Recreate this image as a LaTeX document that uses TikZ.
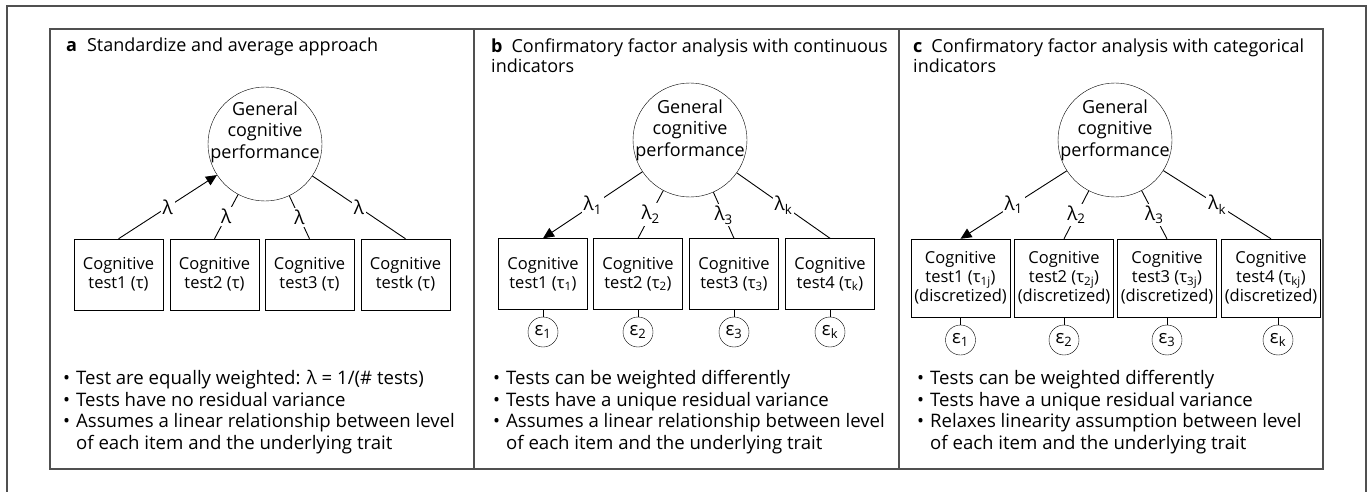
\documentclass[tikz,border=0pt]{standalone}
\usepackage{fontspec}
\setmainfont{Open Sans}
\usetikzlibrary{arrows.meta}
\definecolor{framegray}{HTML}{505050}

\begin{document}
\begin{tikzpicture}[x=1pt,y=-1pt]
\tikzset{latent/.style = {shape=circle,draw,minimum size=114pt,inner sep=0pt}}
\tikzset{test/.style = {shape=rectangle,draw,minimum width=89pt,minimum height=71pt,align=center,font=\fontsize{16.5}{19}\selectfont}}
\tikzset{cattest/.style = {test,minimum width=96pt,minimum height=78pt}}
\tikzset{err/.style = {shape=circle,draw,minimum size=30pt,inner sep=0pt,font=\fontsize{18.5}{18}\selectfont}}
\tikzset{edge/.style = {line width=0.9pt}}
\tikzset{head/.style = {-{Triangle[length=11pt,width=10pt]}}}
\tikzset{loading/.style = {fill=white,inner sep=2pt,font=\fontsize{19}{19}\selectfont}}
\tikzset{panel/.style = {draw=framegray,line width=1.3pt}}
\tikzset{title/.style = {anchor=base west,align=left,inner sep=0pt,font=\fontsize{18}{20}\selectfont}}
\tikzset{notes/.style = {anchor=north west,align=left,inner sep=0pt,font=\fontsize{18.6}{21.7}\selectfont}}
\tikzset{inside/.style = {align=center,font=\fontsize{18}{21.5}\selectfont}}
\newcommand{\bul}{\makebox[13pt][l]{•}}

\useasboundingbox (0,0) rectangle (1370,492);
% frames
\draw[draw=framegray,line width=2pt] (7,500) -- (7,6) -- (1366,6) -- (1366,500);
\draw[panel] (50,29) rectangle (474,469);
\draw[panel] (474,29) rectangle (899,469);
\draw[panel] (899,29) rectangle (1323,469);

% panel a
\node[title] (ta) at (66,52) {\textbf{a}\hspace{10pt}Standardize and average approach};
\node[latent,label={[inside,yshift=12pt]center:General\\cognitive\\performance}] (ga) at (265,144) {};
\node[test] (a1) at (118.5,274.5) {Cognitive\\test1 (τ)};
\node[test] (a2) at (214.5,274.5) {Cognitive\\test2 (τ)};
\node[test] (a3) at (309.5,274.5) {Cognitive\\test3 (τ)};
\node[test] (a4) at (405.5,274.5) {Cognitive\\testk (τ)};
\draw[edge,head] (a1.north) -- node[loading] {λ} (ga);
\draw[edge] (a2.north) -- node[loading] {λ} (ga);
\draw[edge] (a3.north) -- node[loading] {λ} (ga);
\draw[edge] (a4.north) -- node[loading] {λ} (ga);
\node[notes] (na) at (63,370) {\bul Test are equally weighted: λ = 1/(\# tests)\\
  \bul Tests have no residual variance\\
  \bul Assumes a linear relationship between level\\
  \hspace*{13pt}of each item and the underlying trait};

% panel b
\node[title] (tb) at (491,73) {\textbf{b}\hspace{9pt}Confirmatory factor analysis with continuous\\indicators};
\node[latent,label={[inside,yshift=10pt]center:General\\cognitive\\performance}] (gb) at (690,140) {};
\node[test] (b1) at (543,274) {Cognitive\\test1 (τ\textsubscript{1})};
\node[test] (b2) at (638,274) {Cognitive\\test2 (τ\textsubscript{2})};
\node[test] (b3) at (734,274) {Cognitive\\test3 (τ\textsubscript{3})};
\node[test] (b4) at (830,274) {Cognitive\\test4 (τ\textsubscript{k})};
\node[err] (eb1) at (543,332) {ε\textsubscript{1}};
\node[err] (eb2) at (638,332) {ε\textsubscript{2}};
\node[err] (eb3) at (734,332) {ε\textsubscript{3}};
\node[err] (eb4) at (830,332) {ε\textsubscript{k}};
\draw[edge,head] (gb) -- node[loading] {λ\textsubscript{1}} (b1.north);
\draw[edge] (gb) -- node[loading] {λ\textsubscript{2}} (b2.north);
\draw[edge] (gb) -- node[loading] {λ\textsubscript{3}} (b3.north);
\draw[edge] (gb) -- node[loading] {λ\textsubscript{k}} (b4.north);
\draw[edge] (b1) -- (eb1);
\draw[edge] (b2) -- (eb2);
\draw[edge] (b3) -- (eb3);
\draw[edge] (b4) -- (eb4);
\node[notes] (nb) at (493,370) {\bul Tests can be weighted differently\\
  \bul Tests have a unique residual variance\\
  \bul Assumes a linear relationship between level\\
  \hspace*{13pt}of each item and the underlying trait};

% panel c
\node[title] (tc) at (913,73) {\textbf{c}\hspace{9pt}Confirmatory factor analysis with categorical\\indicators};
\node[latent,label={[inside,yshift=10pt]center:General\\cognitive\\performance}] (gc) at (1115,140) {};
\node[cattest] (c1) at (960.5,278) {Cognitive\\test1 (τ\textsubscript{1j})\\(discretized)};
\node[cattest] (c2) at (1064,278) {Cognitive\\test2 (τ\textsubscript{2j})\\(discretized)};
\node[cattest] (c3) at (1167,278) {Cognitive\\test3 (τ\textsubscript{3j})\\(discretized)};
\node[cattest] (c4) at (1271,278) {Cognitive\\test4 (τ\textsubscript{kj})\\(discretized)};
\node[err] (ec1) at (960.5,340) {ε\textsubscript{1}};
\node[err] (ec2) at (1064,340) {ε\textsubscript{2}};
\node[err] (ec3) at (1167,340) {ε\textsubscript{3}};
\node[err] (ec4) at (1278,340) {ε\textsubscript{k}};
\draw[edge,head] (gc) -- node[loading] {λ\textsubscript{1}} (c1.north);
\draw[edge] (gc) -- node[loading] {λ\textsubscript{2}} (c2.north);
\draw[edge] (gc) -- node[loading] {λ\textsubscript{3}} (c3.north);
\draw[edge] (gc) -- node[loading] {λ\textsubscript{k}} (c4.north);
\draw[edge] (c1) -- (ec1);
\draw[edge] (c2) -- (ec2);
\draw[edge] (c3) -- (ec3);
\draw[edge] (ec4 |- c4.south) -- (ec4);
\node[notes] (nc) at (917,370) {\bul Tests can be weighted differently\\
  \bul Tests have a unique residual variance\\
  \bul Relaxes linearity assumption between level\\
  \hspace*{13pt}of each item and the underlying trait};
\end{tikzpicture}
\end{document}
